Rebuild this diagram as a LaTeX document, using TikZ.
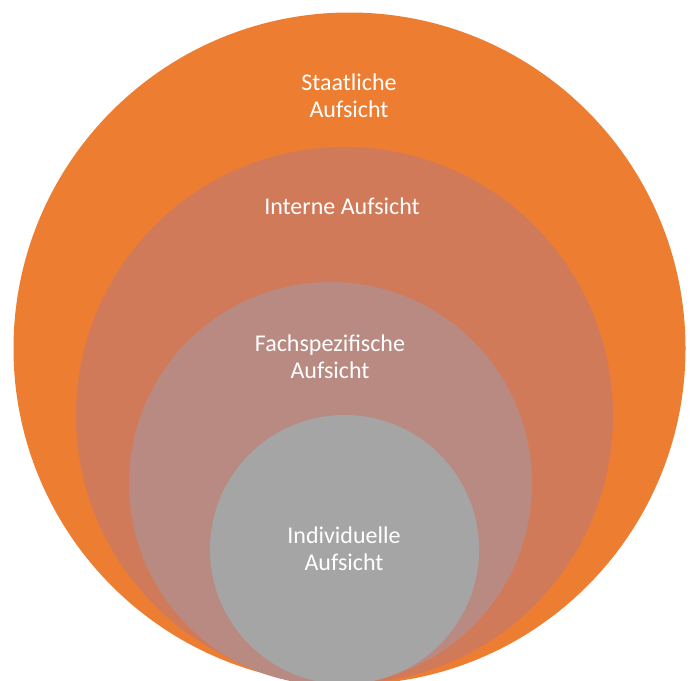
\documentclass[tikz,border=0pt]{standalone}
\usepackage{fontspec}
\setmainfont{Carlito}
\definecolor{c1}{HTML}{ED7D31}
\definecolor{c2}{HTML}{D17A5A}
\definecolor{c3}{HTML}{B98A82}
\definecolor{c4}{HTML}{A5A5A5}
\begin{document}
\begin{tikzpicture}[x=1pt,y=-1pt,
  ring/.style={circle,inner sep=0pt,draw=none},
  lbl/.style={text=white,align=center,font=\fontsize{24}{27}\selectfont}]
\useasboundingbox (0,0) rectangle (692,680);
\begin{scope}
\clip (0,0) rectangle (692,680);
\node[ring,fill=c1,minimum size=672pt] (outer) at (349.5,348.5) {};
\node[ring,fill=c2,minimum size=537pt] (internal) at (344.5,415.5) {};
\node[ring,fill=c3,minimum size=403pt] (special) at (330.5,483.5) {};
\node[ring,fill=c4,minimum size=269pt] (indiv) at (344.5,549.5) {};
\end{scope}
\node[lbl] (t1) at (349,96) {Staatliche\\Aufsicht};
\node[lbl] (t2) at (342,206) {Interne Aufsicht};
\node[lbl] (t3) at (330,357) {Fachspezifische\\Aufsicht};
\node[lbl] (t4) at (344,549) {Individuelle\\Aufsicht};
\end{tikzpicture}
\end{document}
